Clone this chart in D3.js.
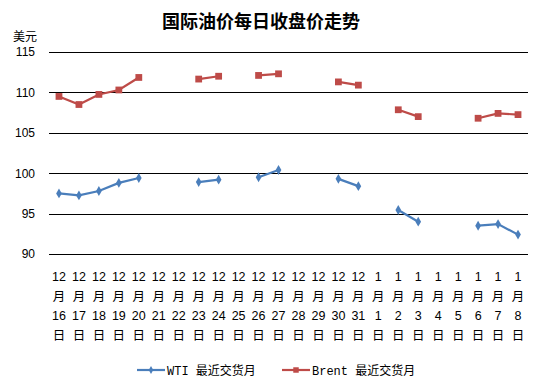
<!DOCTYPE html>
<html>
<head>
<meta charset="utf-8">
<script src="https://cdn.jsdelivr.net/npm/d3@7"></script>
<style>
  body { margin: 0; background: #fff; }
  text { font-family: "Liberation Sans", Arial, "Noto Sans CJK SC", sans-serif; }
</style>
</head>
<body>
<div id="chart"></div>
<script>
// jours de cotation
var days = ["12月16日","12月17日","12月18日","12月19日","12月20日","12月21日","12月22日","12月23日",
  "12月24日","12月25日","12月26日","12月27日","12月28日","12月29日","12月30日","12月31日",
  "1月1日","1月2日","1月3日","1月4日","1月5日","1月6日","1月7日","1月8日"];
// null = pas de cotation
var wti = [97.5, 97.25, 97.8, 98.8, 99.4, null, null, 98.9, 99.2, null, 99.5, 100.4,
  null, null, 99.3, 98.4, null, 95.45, 94.0, null, null, 93.5, 93.7, 92.4];
var brent = [109.5, 108.5, 109.75, 110.3, 111.85, null, null, 111.65, 112.0, null, 112.1, 112.3,
  null, null, 111.3, 110.9, null, 107.85, 107.0, null, null, 106.8, 107.4, 107.25];
var yTicks = [90, 95, 100, 105, 110, 115];

var width = 544, height = 384;
var margin = {left: 49, right: 16, top: 52, bottom: 130};

var svg = d3.select("#chart").append("svg")
  .attr("width", width).attr("height", height);

var x = d3.scaleBand().domain(days).range([margin.left, width - margin.right]);
var y = d3.scaleLinear().domain([90, 115]).range([height - margin.bottom, margin.top]);

// titre
svg.append("text").attr("x", 261).attr("y", 28)
  .attr("text-anchor", "middle").style("font-size", "18px").style("font-weight", "bold")
  .style("font-family", "'Noto Sans CJK SC', sans-serif")
  .text("国际油价每日收盘价走势");
svg.append("text").attr("x", 25).attr("y", 41)
  .attr("text-anchor", "middle").style("font-size", "12px")
  .style("font-family", "'Noto Sans CJK SC', sans-serif")
  .text("美元");

// grille + axe y
var gy = svg.append("g").attr("transform", "translate(" + margin.left + ",0)")
  .call(d3.axisLeft(y).tickValues(yTicks).tickSize(-(width - margin.left - margin.right)).tickPadding(14));
gy.select(".domain").remove();
gy.selectAll(".tick line").attr("stroke", "#000").attr("shape-rendering", "crispEdges");
gy.selectAll(".tick text").style("font-size", "12px").attr("fill", "#000");

// etiquettes x sur 4 lignes
var xl = svg.append("g").selectAll("text").data(days).enter().append("text")
  .attr("text-anchor", "middle").style("font-size", "12.5px")
  .style("font-family", "'Liberation Sans', 'Noto Sans CJK SC', sans-serif")
  .attr("x", d => x(d) + x.bandwidth() / 2);
xl.each(function (d) {
  var m = d.match(/(\d+)月(\d+)日/);
  var parts = [m[1], "月", m[2], "日"];
  var t = d3.select(this);
  parts.forEach(function (p, i) {
    t.append("tspan").attr("x", x(d) + x.bandwidth() / 2)
      .attr("y", 281 + i * 19.7).text(p);
  });
});

// series
var series = [
  {name: "WTI 最近交货月", values: wti, color: "#4a7ebb", marker: "diamond"},
  {name: "Brent 最近交货月", values: brent, color: "#be4b48", marker: "square"}
];

var line = d3.line()
  .defined(d => d.v != null)
  .x(d => x(d.k) + x.bandwidth() / 2)
  .y(d => y(d.v));

function markerPath(type, sz) {
  if (type == "square") return d3.symbol(d3.symbolSquare, sz || 46)();
  return d3.symbol(d3.symbolDiamond, sz ? sz * 0.6 : 28)();
}

series.forEach(function (s) {
  var pts = days.map((k, i) => ({k: k, v: s.values[i]}));
  var g = svg.append("g");
  g.append("path").datum(pts)
    .attr("fill", "none").attr("stroke", s.color).attr("stroke-width", 2.2)
    .attr("d", line);
  g.selectAll(".m").data(pts.filter(d => d.v != null)).enter().append("path")
    .attr("class", "m")
    .attr("transform", d => "translate(" + (x(d.k) + x.bandwidth() / 2) + "," + y(d.v) + ")")
    .attr("fill", s.color)
    .attr("d", markerPath(s.marker));
});

// legende
var leg = [{x: 137, s: series[0]}, {x: 282, s: series[1]}];
leg.forEach(function (l) {
  var g = svg.append("g").attr("transform", "translate(" + l.x + ",370)");
  g.append("line").attr("x1", 0).attr("x2", 28).attr("stroke", l.s.color).attr("stroke-width", 2.2);
  g.append("path").attr("transform", "translate(14,0)").attr("fill", l.s.color).attr("d", markerPath(l.s.marker, 30));
  g.append("text").attr("x", 30).attr("y", 4.5).style("font-size", "12px")
    .style("font-family", "'Liberation Mono', 'Noto Sans CJK SC', monospace")
    .text(l.s.name);
});
</script>
</body>
</html>
